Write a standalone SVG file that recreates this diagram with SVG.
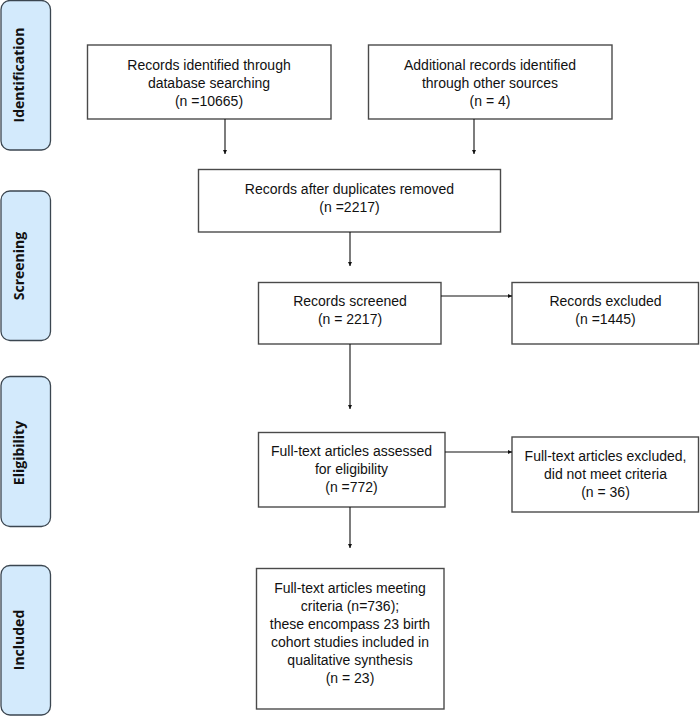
<svg xmlns="http://www.w3.org/2000/svg" width="700" height="716" viewBox="0 0 700 716">
<defs>
<style>
.stage rect{fill:#d3eafc;stroke:#3b4650;stroke-width:1.3}
.stage text{font-family:"Open Sans","DejaVu Sans",sans-serif;font-weight:bold;font-size:14px;fill:#111;text-anchor:middle}
.box rect{fill:#fff;stroke:#4a4a4a;stroke-width:1.4}
.box text{font-family:"Liberation Sans",Arial,sans-serif;font-size:14px;fill:#111;text-anchor:middle}
.conn line{stroke:#111;stroke-width:1.1;fill:none;marker-end:url(#ah)}
</style>
<marker id="ah" viewBox="0 0 6 6" refX="6" refY="3" markerWidth="4" markerHeight="4" markerUnits="userSpaceOnUse" orient="auto">
<path d="M0,0 L6,3 L0,6 z" fill="#111"/>
</marker>
</defs>
<rect width="700" height="716" fill="#fff"/>

<g id="stage-identification" class="stage">
<rect x="1" y="0.5" width="49.5" height="149.5" rx="9"/>
<text transform="translate(24,75) rotate(-90)">Identification</text>
</g>
<g id="stage-screening" class="stage">
<rect x="1" y="191" width="49.5" height="149.5" rx="9"/>
<text transform="translate(24,266) rotate(-90)">Screening</text>
</g>
<g id="stage-eligibility" class="stage">
<rect x="1" y="376.5" width="49.5" height="150" rx="9"/>
<text transform="translate(24,453) rotate(-90)">Eligibility</text>
</g>
<g id="stage-included" class="stage">
<rect x="1" y="565.5" width="49.5" height="149.5" rx="9"/>
<text transform="translate(24,640) rotate(-90)">Included</text>
</g>

<g id="n-database" class="box">
<rect x="87.5" y="45" width="243.5" height="74"/>
<text x="209" y="69.5">Records identified through</text>
<text x="209" y="87.5">database searching</text>
<text x="209" y="105.5">(n =10665)</text>
</g>
<g id="n-other" class="box">
<rect x="368.5" y="45" width="243.5" height="74"/>
<text x="490" y="69.5">Additional records identified</text>
<text x="490" y="87.5">through other sources</text>
<text x="490" y="105.5">(n = 4)</text>
</g>
<g id="n-dedup" class="box">
<rect x="198.5" y="169.5" width="302" height="62.5"/>
<text x="349.5" y="194">Records after duplicates removed</text>
<text x="349.5" y="212">(n =2217)</text>
</g>
<g id="n-screened" class="box">
<rect x="258.5" y="282.5" width="182.5" height="61.5"/>
<text x="350" y="306">Records screened</text>
<text x="350" y="324">(n = 2217)</text>
</g>
<g id="n-excluded" class="box">
<rect x="512" y="282.5" width="186.5" height="61.5"/>
<text x="605.5" y="306">Records excluded</text>
<text x="605.5" y="324">(n =1445)</text>
</g>
<g id="n-fulltext" class="box">
<rect x="258.5" y="432.5" width="186.5" height="74.5"/>
<text x="351.5" y="456">Full-text articles assessed</text>
<text x="351.5" y="474">for eligibility</text>
<text x="351.5" y="492">(n =772)</text>
</g>
<g id="n-ftexcluded" class="box">
<rect x="512" y="437" width="186.5" height="75"/>
<text x="605.5" y="461">Full-text articles excluded,</text>
<text x="605.5" y="479">did not meet criteria</text>
<text x="605.5" y="497">(n = 36)</text>
</g>
<g id="n-included" class="box">
<rect x="256.5" y="568.5" width="187.5" height="140.5"/>
<text x="350" y="593">Full-text articles meeting</text>
<text x="350" y="611">criteria (n=736);</text>
<text x="350" y="629">these encompass 23 birth</text>
<text x="350" y="647">cohort studies included in</text>
<text x="350" y="665">qualitative synthesis</text>
<text x="350" y="683">(n = 23)</text>
</g>

<g id="connectors" class="conn">
<line x1="225" y1="119" x2="225" y2="154"/>
<line x1="474" y1="119" x2="474" y2="154"/>
<line x1="350" y1="232" x2="350" y2="266"/>
<line x1="350" y1="344" x2="350" y2="409"/>
<line x1="350" y1="507" x2="350" y2="548"/>
<line x1="441" y1="296" x2="512" y2="296"/>
<line x1="445" y1="452" x2="512" y2="452"/>
</g>
</svg>
